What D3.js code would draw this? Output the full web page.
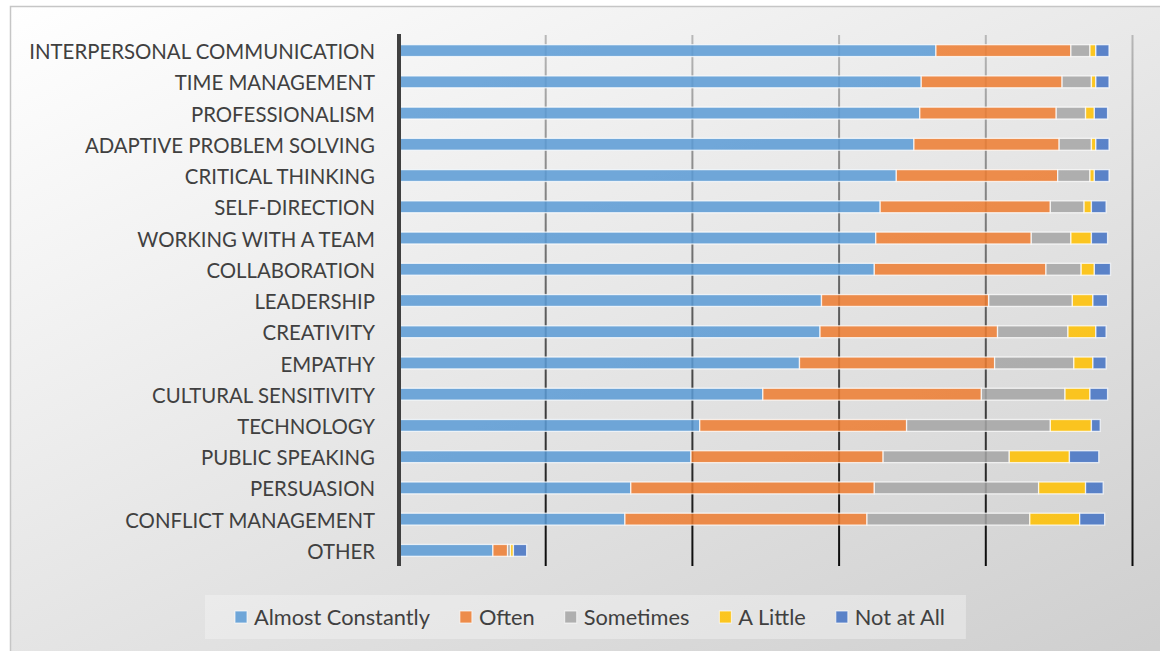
<!DOCTYPE html>
<html>
<head>
<meta charset="utf-8">
<script src="https://cdn.jsdelivr.net/npm/d3@7"></script>
<style>
  html, body { margin: 0; padding: 0; background: #ffffff; }
  svg { display: block; }
  text { font-family: Lato, "Open Sans", sans-serif; }
</style>
</head>
<body>
<svg id="chart" width="1160" height="651"></svg>
<script>
// Skill categories, top to bottom
const categories = [
  "INTERPERSONAL COMMUNICATION", "TIME MANAGEMENT", "PROFESSIONALISM",
  "ADAPTIVE PROBLEM SOLVING", "CRITICAL THINKING", "SELF-DIRECTION",
  "WORKING WITH A TEAM", "COLLABORATION", "LEADERSHIP", "CREATIVITY",
  "EMPATHY", "CULTURAL SENSITIVITY", "TECHNOLOGY", "PUBLIC SPEAKING",
  "PERSUASION", "CONFLICT MANAGEMENT", "OTHER"
];

// Response series (number of responses per category)
const seriesNames = ["Almost Constantly", "Often", "Sometimes", "A Little", "Not at All"];
const almostConstantly = [366, 356, 355, 351, 339, 328, 325, 324, 288, 287, 273, 248, 205, 199, 158, 154, 64];
const often            = [ 92,  96,  93,  99, 110, 116, 106, 117, 114, 121, 133, 149, 141, 131, 166, 165, 10];
const sometimes        = [ 13,  20,  20,  22,  22,  23,  27,  24,  57,  48,  54,  57,  98,  86, 112, 111,  2];
const aLittle          = [  4,   3,   6,   3,   3,   5,  14,   9,  14,  19,  13,  17,  28,  41,  32,  34,  2];
const notAtAll         = [  9,   9,   9,   9,  10,  10,  11,  11,  10,   7,   9,  12,   6,  20,  12,  17,  9];
const seriesColors = ["#5B9BD5", "#ED7D31", "#A5A5A5", "#FFC000", "#4472C4"];
const xTicks = [0, 100, 200, 300, 400, 500];

const rows = categories.map((c, i) => ({
  category: c,
  "Almost Constantly": almostConstantly[i],
  "Often": often[i],
  "Sometimes": sometimes[i],
  "A Little": aLittle[i],
  "Not at All": notAtAll[i]
}));

const svg = d3.select("#chart");
const defs = svg.append("defs");

// Chart area background: soft diagonal grey gradient
const bg = defs.append("linearGradient")
  .attr("id", "bgGrad").attr("gradientUnits", "userSpaceOnUse")
  .attr("x1", 10).attr("y1", 6).attr("x2", 457).attr("y2", 971);
bg.append("stop").attr("offset", 0).attr("stop-color", "#ffffff");
bg.append("stop").attr("offset", 1).attr("stop-color", "#cfcfcf");

const plotTop = 35, plotBottom = 566;

// Gridlines fade from light grey at the top to near black at the bottom
const gg = defs.append("linearGradient")
  .attr("id", "gridGrad").attr("gradientUnits", "userSpaceOnUse")
  .attr("x1", 0).attr("y1", plotTop).attr("x2", 0).attr("y2", plotBottom);
gg.append("stop").attr("offset", 0).attr("stop-color", "#b8b8b8");
gg.append("stop").attr("offset", 1).attr("stop-color", "#0a0a0a");

svg.append("rect")
  .attr("x", 10.5).attr("y", 6.5).attr("width", 1160).attr("height", 660)
  .attr("fill", "url(#bgGrad)")
  .attr("stroke", "#c6c6c6").attr("stroke-width", 1.5);

const x = d3.scaleLinear().domain([0, 500]).range([399, 1132.5]);
const y = d3.scaleBand().domain(categories).range([plotTop, plotBottom])
  .paddingInner(0.62).paddingOuter(0.31);

// Vertical gridlines
svg.append("g").selectAll("line")
  .data(xTicks.filter(t => t > 0))
  .join("line")
  .attr("x1", d => x(d)).attr("x2", d => x(d))
  .attr("y1", plotTop).attr("y2", plotBottom)
  .attr("stroke", "url(#gridGrad)").attr("stroke-width", 2);

// Stacked bars
const stack = d3.stack().keys(seriesNames);
const stacked = stack(rows);
const color = d3.scaleOrdinal().domain(seriesNames).range(seriesColors);

svg.append("g").selectAll("g")
  .data(stacked)
  .join("g")
  .attr("fill", d => color(d.key))
  .selectAll("rect")
  .data(d => d)
  .join("rect")
  .attr("x", d => x(d[0]))
  .attr("y", d => y(d.data.category))
  .attr("width", d => Math.max(0, x(d[1]) - x(d[0])))
  .attr("height", y.bandwidth())
  .attr("fill-opacity", 0.86)
  .attr("stroke", "#ffffff").attr("stroke-opacity", 0.75).attr("stroke-width", 1.3);

// Category axis with a heavy dark spine
const yAxis = svg.append("g")
  .attr("transform", "translate(399,0)")
  .call(d3.axisLeft(y).tickSize(0).tickSizeOuter(0).tickPadding(24));
yAxis.select(".domain")
  .attr("stroke", "#404040").attr("stroke-width", 4)
  .attr("d", `M0,${plotTop - 1}V${plotBottom}`);
const labels = yAxis.selectAll(".tick text")
  .attr("fill", "#404040")
  .attr("dy", "0.42em")
  .style("font-family", "Lato, 'Open Sans', sans-serif")
  .attr("font-size", 18);

// Size the category labels so the longest one spans its column
const longest = labels.filter(d => d === "INTERPERSONAL COMMUNICATION").node();
const w0 = longest.getComputedTextLength();
const labelSize = 18 * 346 / w0;
labels.attr("font-size", labelSize);

// Legend
const legend = svg.append("g");
const legendBox = legend.append("rect")
  .attr("x", 205).attr("y", 595).attr("height", 44)
  .attr("fill", "#f4f4f4").attr("fill-opacity", 0.45);

const probe = legend.append("text").attr("font-size", 18).text("Almost Constantly");
const legendSize = 18 * 176 / probe.node().getComputedTextLength();
probe.remove();

let cx = 235;
seriesNames.forEach(name => {
  legend.append("rect")
    .attr("x", cx).attr("y", 611).attr("width", 12).attr("height", 12)
    .attr("fill", color(name)).attr("fill-opacity", 0.86)
    .attr("stroke", "#ffffff").attr("stroke-opacity", 0.7).attr("stroke-width", 1);
  const t = legend.append("text")
    .attr("x", cx + 19).attr("y", 617)
    .attr("dy", "0.38em")
    .attr("font-size", legendSize)
    .attr("fill", "#404040")
    .text(name);
  cx = cx + 19 + t.node().getComputedTextLength() + 30;
});
legendBox.attr("width", cx - 30 + 21 - 205);
</script>
</body>
</html>
